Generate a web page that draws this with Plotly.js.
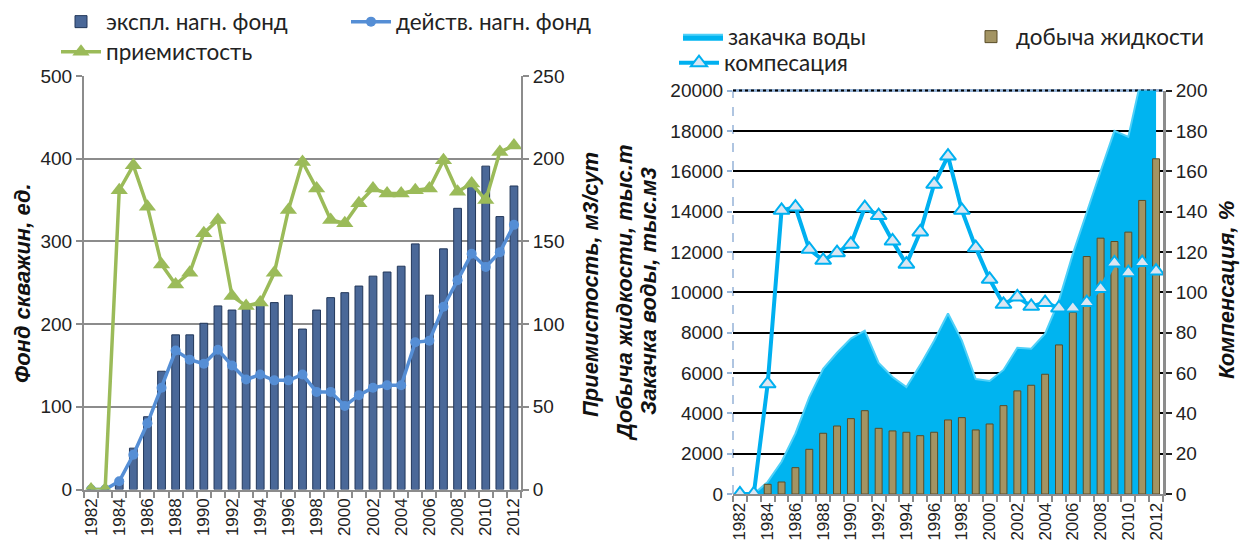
<!DOCTYPE html>
<html><head><meta charset="utf-8">
<script src="https://cdn.plot.ly/plotly-3.0.1.min.js"></script>
<style>html,body{margin:0;padding:0;background:#fff}#chart{width:1242px;height:548px}</style>
</head><body><div id="chart"></div>
<script>
// ---- data ----
const years = [1982,1983,1984,1985,1986,1987,1988,1989,1990,1991,1992,1993,1994,1995,1996,1997,1998,1999,2000,2001,2002,2003,2004,2005,2006,2007,2008,2009,2010,2011,2012];
const yearLabels = [1982,1984,1986,1988,1990,1992,1994,1996,1998,2000,2002,2004,2006,2008,2010,2012];
// left chart
const explFond   = [0,0,12,50,88,143,187,187,201,222,217,218,224,226,235,194,217,232,238,246,258,263,270,297,235,291,340,370,391,330,367];
const deistvFond = [0,0,10,42,80,123,168,157,152,169,150,133,139,132,132,139,118,118,101,114,123,126,126,178,180,221,253,285,269,287,320];
const priemist   = [0,0,181,196,171,136,124,131,155,163,117,111,113,131,169,198,182,163,161,173,182,179,179,181,182,199,180,185,175,204,208];
// right chart
const zakachka   = [0,0,600,1600,3000,4800,6200,7000,7700,8100,6500,5800,5300,6400,7600,8950,7600,5700,5600,6150,7250,7200,7950,9600,11900,14000,16000,18000,17700,20800,21500];
const dobycha    = [0,0,480,595,1305,2215,3010,3370,3735,4130,3255,3125,3060,2890,3060,3670,3785,3175,3470,4380,5110,5390,5935,7390,9000,11770,12680,12515,12980,14550,16615];
const kompens    = [0,0,54.6,140.6,142.2,121.3,115.8,119.6,123.8,141.9,138,125.4,113.9,129.9,153.5,167.5,140.6,122.1,106.4,94,97.7,93,94.9,92.2,92.2,94.9,101.8,114.5,109.7,114.7,110.5];

// ---- layout helpers ----
const W = 1242, H = 548;
const px = v => v / W, py = v => 1 - v / H;
const boundaries = years.map(y => y - 0.5).concat([years[years.length-1] + 0.5]);
const TF = 'Liberation Sans, Arial, sans-serif';
const LF = 'Lato, Liberation Sans, sans-serif';

function xAxis(domain, anchor) {
  return {
    domain: domain, anchor: anchor, range: [1981.5, 2012.5],
    tickmode: 'array', tickvals: yearLabels, ticktext: yearLabels.map(String),
    tickangle: -90, ticks: '', tickfont: {family: TF, size: 17, color: '#222'},
    showline: true, linecolor: '#8c8c8c', linewidth: 2, showgrid: false, zeroline: false,
    minor: {tickmode: 'array', tickvals: boundaries, ticks: 'outside', ticklen: 6, tickwidth: 2, tickcolor: '#8c8c8c', showgrid: false},
    fixedrange: true
  };
}

const traces = [
  {type: 'bar', name: 'экспл. нагн. фонд', x: years, y: explFond, xaxis: 'x', yaxis: 'y', width: 0.55,
   marker: {color: '#4a6898', line: {color: '#22375a', width: 1}}, legend: 'legend'},
  {type: 'scatter', mode: 'lines+markers', name: 'действ. нагн. фонд', x: years, y: deistvFond, xaxis: 'x', yaxis: 'y',
   line: {color: '#558ed5', width: 3.5}, marker: {symbol: 'circle', size: 10, color: '#558ed5'}, legend: 'legend2'},
  {type: 'scatter', mode: 'lines+markers', name: 'приемистость', x: years, y: priemist, xaxis: 'x', yaxis: 'y2',
   line: {color: '#9bbb59', width: 3.5}, marker: {symbol: 'triangle-up', size: 15, color: '#9bbb59'}, legend: 'legend3'},
  {type: 'scatter', mode: 'lines', name: 'закачка воды', x: years, y: zakachka, xaxis: 'x2', yaxis: 'y3',
   fill: 'tozeroy', fillcolor: '#00b4f0', line: {color: '#4fd0f8', width: 2}, legend: 'legend4'},
  {type: 'bar', name: 'добыча жидкости', x: years, y: dobycha, xaxis: 'x2', yaxis: 'y4', width: 0.5,
   marker: {color: '#a39463', line: {color: '#5a4d28', width: 1}}, legend: 'legend5'},
  {type: 'scatter', mode: 'lines+markers', name: 'компесация', x: years, y: kompens, xaxis: 'x2', yaxis: 'y5',
   line: {color: '#00b0f0', width: 4}, marker: {symbol: 'triangle-up', size: 14, color: '#dce6f2', line: {color: '#00b0f0', width: 2}}, legend: 'legend6'}
];

const legendBase = {xanchor: 'left', yanchor: 'middle', orientation: 'h', bgcolor: 'rgba(0,0,0,0)',
  font: {family: LF, size: 22.5, color: '#222'}, itemwidth: 40};

const tf = {family: TF, size: 19, color: '#222'};
const titleFont = {family: TF, size: 22, color: '#111'};
function vtitle(text, x, y) {
  return {text: '<b><i>' + text + '</i></b>', xref: 'paper', yref: 'paper', x: px(x), y: py(y),
    xanchor: 'center', yanchor: 'middle', textangle: -90, showarrow: false, font: titleFont};
}

const layout = {
  width: W, height: H, margin: {l: 0, r: 0, t: 0, b: 0},
  paper_bgcolor: '#fff', plot_bgcolor: 'rgba(0,0,0,0)', showlegend: true,
  xaxis: xAxis([px(84), px(521)], 'y'),
  yaxis: {domain: [py(489.5), py(76)], anchor: 'x', range: [0, 500], dtick: 100,
    showgrid: true, gridcolor: '#8c8c8c', gridwidth: 2, zeroline: false,
    showline: true, linecolor: '#8c8c8c', linewidth: 2, ticks: 'outside', ticklen: 6, tickwidth: 2, tickcolor: '#8c8c8c',
    tickfont: tf, fixedrange: true},
  yaxis2: {overlaying: 'y', side: 'right', anchor: 'x', range: [0, 250], dtick: 50, showgrid: false, zeroline: false,
    showline: true, linecolor: '#8c8c8c', linewidth: 2, ticks: 'outside', ticklen: 6, tickwidth: 2, tickcolor: '#8c8c8c',
    tickfont: tf, fixedrange: true},
  xaxis2: xAxis([px(733), px(1163)], 'y3'),
  yaxis3: {domain: [py(494), py(90.5)], anchor: 'x2', range: [0, 20000], dtick: 2000, tickformat: 'd', exponentformat: 'none',
    showgrid: true, gridcolor: '#000', gridwidth: 2, zeroline: false, showline: false,
    ticks: 'outside', ticklen: 5, tickwidth: 2, tickcolor: '#95b3d7',
    tickfont: tf, fixedrange: true},
  yaxis4: {overlaying: 'y3', anchor: 'x2', range: [0, 20000], visible: false, fixedrange: true},
  yaxis5: {overlaying: 'y3', side: 'right', anchor: 'x2', range: [0, 200], dtick: 20, showgrid: false, zeroline: false,
    showline: true, linecolor: '#8c8c8c', linewidth: 3, ticks: 'outside', ticklen: 6, tickwidth: 2, tickcolor: '#222',
    tickfont: tf, fixedrange: true},
  legend:  Object.assign({}, legendBase, {x: px(56),  y: py(22)}),
  legend2: Object.assign({}, legendBase, {x: px(346), y: py(22)}),
  legend3: Object.assign({}, legendBase, {x: px(56),  y: py(52)}),
  legend4: Object.assign({}, legendBase, {x: px(678), y: py(37)}),
  legend5: Object.assign({}, legendBase, {x: px(966), y: py(37)}),
  legend6: Object.assign({}, legendBase, {x: px(674), y: py(63)}),
  shapes: [
    {type: 'line', xref: 'paper', yref: 'paper', x0: px(733), x1: px(733), y0: py(494), y1: py(90.5),
     line: {color: '#95b3d7', width: 1.5, dash: 'dash'}, layer: 'below'},
    {type: 'line', xref: 'paper', yref: 'paper', x0: px(733), x1: px(1163), y0: py(90.5), y1: py(90.5),
     line: {color: '#95b3d7', width: 3}, layer: 'below'},
    {type: 'line', xref: 'paper', yref: 'paper', x0: px(733), x1: px(1163), y0: py(90.5), y1: py(90.5),
     line: {color: '#000', width: 2, dash: 'dot'}, layer: 'below'}
  ],
  annotations: [
    vtitle('Фонд скважин, ед.', 22, 283),
    vtitle('Приемистость, м3/сут', 590, 285),
    vtitle('Добыча жидкости, тыс.т', 624, 293),
    vtitle('Закачка воды, тыс.м3', 648, 291),
    vtitle('Компенсация, %', 1226, 290)
  ]
};

Plotly.newPlot('chart', traces, layout, {displayModeBar: false, staticPlot: true});
</script>
</body></html>
